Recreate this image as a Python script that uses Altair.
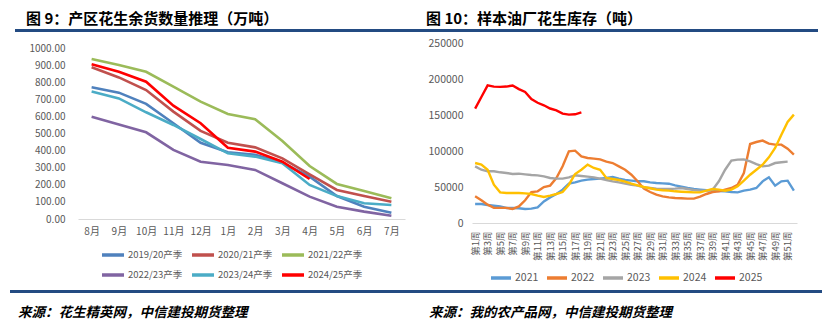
import altair as alt
import pandas as pd

FONT = "Noto Sans CJK SC"

# ---------------- left chart data ----------------
months = ["8月", "9月", "10月", "11月", "12月", "1月", "2月", "3月", "4月", "5月", "6月", "7月"]
seasons = ["2019/20产季", "2020/21产季", "2021/22产季", "2022/23产季", "2023/24产季", "2024/25产季"]
s1920 = [770, 739, 673, 560, 446, 390, 375, 329, 248, 134, 72, 37]
s2021 = [887, 828, 754, 628, 515, 446, 419, 355, 261, 170, 134, 101]
s2122 = [936, 900, 861, 774, 686, 614, 583, 456, 310, 205, 164, 121]
s2223 = [598, 553, 507, 404, 335, 316, 287, 209, 131, 72, 43, 19]
s2324 = [745, 705, 624, 550, 468, 384, 365, 326, 199, 134, 92, 82]
s2425 = [905, 861, 803, 663, 560, 417, 394, 335, 234]
left_colors = ["#4F81BD", "#C0504D", "#9BBB59", "#8064A2", "#4BACC6", "#FF0000"]

# ---------------- right chart data ----------------
weeks = [f"第{i}周" for i in range(1, 53)]
years = ["2021", "2022", "2023", "2024", "2025"]
w2021 = [26400, 26400, 25000, 24000, 23000, 20800, 20800, 20400, 19400, 19900,
         21800, 30000, 35600, 40300, 46300, 54600, 56500, 58800, 60200, 61100,
         61600, 62500, 63900, 61600, 59700, 58800, 57900, 57900, 56500, 55600,
         55100, 54600, 52300, 50500, 48600, 47200, 46300, 45400, 44900, 44400,
         44000, 43000, 42600, 44900, 46300, 48600, 57900, 63400, 51900, 57900,
         58800, 44900]
w2022 = [37000, 31500, 25500, 21000, 21000, 21000, 19500, 23000, 31500, 43000,
         44000, 50000, 52000, 62500, 78700, 99500, 100500, 92600, 90300, 89400,
         88400, 85200, 83300, 78700, 74000, 67000, 58000, 47700, 43000, 39400,
         37000, 35600, 34700, 34300, 33800, 33800, 36600, 40300, 43000, 44000,
         46300, 48600, 53200, 69500, 109700, 112500, 114400, 110200, 108800, 108800,
         103200, 95000]
w2023 = [78700, 74000, 71800, 71800, 70400, 69500, 68100, 68500, 67600, 66700,
         66200, 64800, 62500, 61600, 61600, 63400, 66200, 65300, 64400, 63400,
         61600, 59700, 57900, 56500, 54600, 53200, 51900, 49500, 48600, 47700,
         47200, 47200, 47700, 48600, 47200, 45800, 44900, 44900, 46300, 57900,
         74000, 86600, 88000, 88400, 85700, 81900, 78700, 79600, 83300, 84300,
         85200]
w2024 = [83300, 81000, 74000, 53200, 42600, 41700, 41700, 41700, 41200, 40300,
         38000, 36100, 38000, 40300, 43000, 53200, 68100, 74000, 81000, 76400,
         74000, 62500, 61100, 59700, 57400, 54600, 52300, 50000, 48200, 46300,
         45400, 44900, 44000, 43500, 43000, 42600, 42600, 44900, 47200, 46300,
         44900, 46300, 50900, 58800, 67100, 74000, 81000, 91200, 104200, 122700,
         140300, 150500]
w2025 = [158800, 175000, 191200, 189400, 189000, 189500, 191000, 186000, 182000, 172000,
         167000, 163500, 159000, 156500, 152000, 150500, 151000, 153700]
right_colors = ["#5B9BD5", "#ED7D31", "#A5A5A5", "#FFC000", "#FF0000"]

left_title = "图 9：产区花生余货数量推理（万吨）"
right_title = "图 10：样本油厂花生库存（吨）"
left_source = "来源：花生精英网，中信建投期货整理"
right_source = "来源：我的农产品网，中信建投期货整理"

BLUE = "#234B82"
GRAY_TXT = "#595959"

# ---------------- build tables ----------------
rows = []
for s, vals in zip(seasons, [s1920, s2021, s2122, s2223, s2324, s2425]):
    for m, v in zip(months, vals):
        rows.append({"month": m, "season": s, "value": v})
left_df = pd.DataFrame(rows)

rows = []
for y, vals in zip(years, [w2021, w2022, w2023, w2024, w2025]):
    for w, v in zip(weeks, vals):
        rows.append({"week": w, "year": y, "value": v})
right_df = pd.DataFrame(rows)

# both plot areas start at the same top (y=43 on the page)
LW, LH = 327, 176           # left: 1000 sits 5px below the top
L_TOP_VAL = 1000 * LH / 171.0
RW, RH = 325, 180


def decor(title, source, title_x, title_y, tr_x, tr_x2, tr_y, br_x, br_x2, br_y, src_x, src_y):
    t = alt.Chart(pd.DataFrame({"t": [title]})).mark_text(
        align="left", baseline="top", fontSize=15, fontWeight="bold", font=FONT, color="#000000"
    ).encode(x=alt.value(title_x), y=alt.value(title_y), text="t:N")
    r1 = alt.Chart(pd.DataFrame({"t": [0]})).mark_rect(color=BLUE).encode(
        x=alt.value(tr_x), x2=alt.value(tr_x2), y=alt.value(tr_y), y2=alt.value(tr_y + 3))
    r2 = alt.Chart(pd.DataFrame({"t": [0]})).mark_rect(color=BLUE).encode(
        x=alt.value(br_x), x2=alt.value(br_x2), y=alt.value(br_y), y2=alt.value(br_y + 3))
    s = alt.Chart(pd.DataFrame({"t": [source]})).mark_text(
        align="left", baseline="middle", fontSize=13.5, fontWeight="bold", fontStyle="italic",
        font=FONT, color="#000000"
    ).encode(x=alt.value(src_x), y=alt.value(src_y), text="t:N")
    return [t, r1, r2, s]


left_lines = alt.Chart(left_df).mark_line(strokeWidth=2.6).encode(
    x=alt.X("month:N", sort=months, scale=alt.Scale(type="point", padding=0.5),
            axis=alt.Axis(title=None, labelAngle=0, ticks=False, domainColor="#D9D9D9",
                          labelFontSize=10, labelColor=GRAY_TXT, labelFont=FONT, labelPadding=7)),
    y=alt.Y("value:Q", scale=alt.Scale(domain=[0, L_TOP_VAL], nice=False),
            axis=alt.Axis(title=None, values=list(range(0, 1001, 100)), format=".2f", ticks=False,
                          domain=False, grid=False, labelFontSize=10, labelColor=GRAY_TXT,
                          labelFont=FONT, labelPadding=13)),
    color=alt.Color("season:N", scale=alt.Scale(domain=seasons, range=left_colors),
                    legend=alt.Legend(title=None, orient="none", legendX=22, legendY=199, columns=3,
                                      direction="horizontal", symbolType="stroke", symbolSize=484,
                                      symbolStrokeWidth=3.5, labelFontSize=9.5, labelColor=GRAY_TXT,
                                      labelFont=FONT, columnPadding=2, rowPadding=0, labelOffset=2,
                                      padding=0)),
)

left = alt.layer(
    left_lines,
    *decor(left_title, left_source, -52, -31, -63, 338, -14, -68, 338, 247, -60, 270)
).properties(width=LW, height=LH)

right_lines = alt.Chart(right_df).mark_line(strokeWidth=2.4).encode(
    x=alt.X("week:N", sort=weeks, scale=alt.Scale(type="point", padding=0.5),
            axis=alt.Axis(title=None, values=weeks[::2], labelAngle=270, ticks=False,
                          domainColor="#D9D9D9", labelFontSize=9.5, labelColor=GRAY_TXT,
                          labelFont=FONT, labelPadding=8, labelOverlap=False)),
    y=alt.Y("value:Q", scale=alt.Scale(domain=[0, 250000], nice=False),
            axis=alt.Axis(title=None, values=list(range(0, 250001, 50000)), format="d", ticks=False,
                          domain=False, grid=False, labelFontSize=10.5, labelColor=GRAY_TXT,
                          labelFont=FONT, labelPadding=9)),
    color=alt.Color("year:N", scale=alt.Scale(domain=years, range=right_colors),
                    legend=alt.Legend(title=None, orient="none", legendX=17, legendY=223,
                                      direction="horizontal", symbolType="stroke", symbolSize=400,
                                      symbolStrokeWidth=3.5, labelFontSize=10.5, labelColor=GRAY_TXT,
                                      labelFont=FONT, columnPadding=1, labelOffset=2, padding=0)),
)

right = alt.layer(
    right_lines,
    *decor(right_title, right_source, -46, -31, -56, 346, -14, -56, 350, 247, -43, 270)
).properties(width=RW, height=RH)

chart = alt.hconcat(left, right, spacing=0).resolve_scale(
    color="independent"
).resolve_legend(color="independent").properties(
    padding={"left": 10, "top": 12, "right": 10, "bottom": 4},
    background="white",
).configure_view(stroke=None)

chart.save("out.html", embed_options={"renderer": "svg", "actions": False})
